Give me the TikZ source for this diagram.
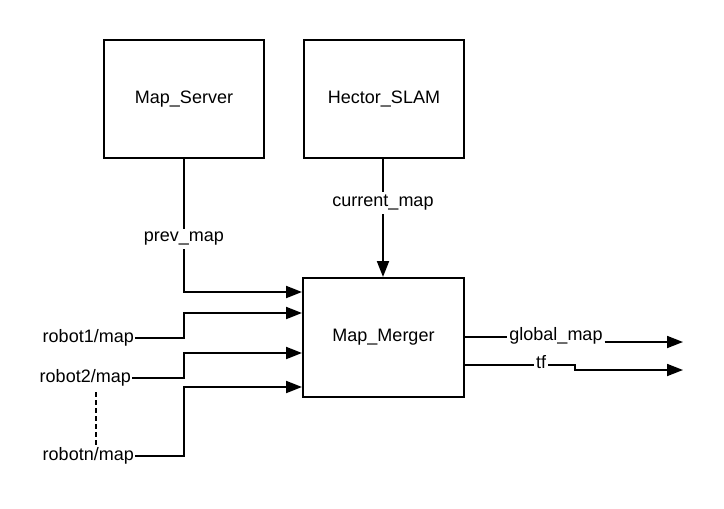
\documentclass[tikz,border=0pt]{standalone}
\usepackage{fontspec}
\setmainfont{Liberation Sans}
\usetikzlibrary{arrows.meta}
\begin{document}
\begin{tikzpicture}[x=1pt,y=-1pt,
  font=\fontsize{18}{21}\selectfont,
  box/.style={draw=black,line width=2pt,minimum width=160pt,minimum height=118pt,inner sep=0pt},
  arr/.style={draw=black,line width=2pt,-{Triangle[length=16pt,width=12pt]}},
  plain/.style={draw=black,line width=2pt},
  lbl/.style={fill=white,inner sep=3pt},
  rob/.style={anchor=east,inner sep=1pt}]
\useasboundingbox (0,0) rectangle (724,509);
\node[box] (server) at (184,99) {Map\_Server};
\node[box] (hector) at (384,99) {Hector\_SLAM};
\node[box,minimum width=161pt,minimum height=119pt] (merger) at (383.5,337.5) {Map\_Merger};

% prev_map
\draw[arr] (server.south) |- (merger.west |- 0,292);
\node[lbl] (pm) at (184,239) {prev\_map};
% current_map
\draw[arr] (hector.south -| 383,0) -- (merger.north -| 383,0);
\node[lbl] (cm) at (383,203) {current\_map};

% robots
\node[rob] (r1) at (135,338) {robot1/map};
\node[rob] (r2) at (132,378) {robot2/map};
\node[rob] (rn) at (135,456) {robotn/map};
\draw[arr] (r1.east) -- (184,338) |- (merger.west |- 0,313);
\draw[arr] (r2.east) -- (184,378) |- (merger.west |- 0,353);
\draw[arr] (rn.east) -- (184,456) |- (merger.west |- 0,387);
\draw[plain,line width=1.8pt,dash pattern=on 5pt off 3pt] (96,392) -- (96,447);

% outputs
\node[inner sep=2pt] (gm) at (556,336) {global\_map};
\coordinate (ge) at (683,342);
\draw[plain,line width=1.8pt] (merger.east |- 0,337) -- (gm.west |- 0,337);
\draw[arr,line width=1.8pt] (gm.east |- ge) -- (ge);
\node[inner sep=2pt] (tf) at (541,362) {tf};
\coordinate (te) at (683,370);
\draw[plain,line width=1.8pt] (merger.east |- 0,365) -- (tf.west |- 0,365);
\draw[arr,line width=1.8pt] (tf.east |- 0,365) -- (575,365) -- (575,370) -- (te);
\end{tikzpicture}
\end{document}
